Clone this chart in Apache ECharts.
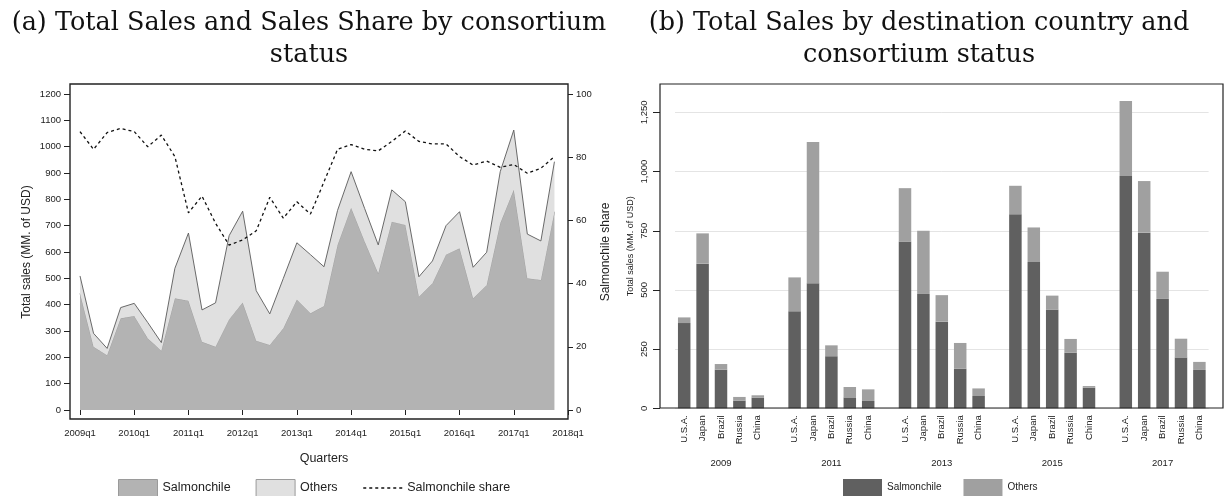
<!DOCTYPE html>
<html>
<head>
<meta charset="utf-8">
<title>Salmonchile sales</title>
<script src="https://cdn.jsdelivr.net/npm/echarts@6/dist/echarts.min.js"></script>
<style>
  html, body { margin: 0; padding: 0; background: #fff; }
  #chart { width: 1227px; height: 496px; }
</style>
</head>
<body>
<div id="chart"></div>
<script>
// (a) quarterly sales, 2009q1 .. 2017q4 (MM. of USD)
var years = [2009, 2010, 2011, 2012, 2013, 2014, 2015, 2016, 2017];
var salmonQ = [443, 240, 208, 348, 357, 272, 225, 424, 415, 259, 240, 344,
               408, 263, 247, 310, 420, 367, 395, 627, 768, 640, 519, 715,
               703, 430, 481, 590, 614, 424, 475, 709, 836, 500, 494, 753];
var othersQ = [66, 51, 26, 41, 48, 60, 31, 114, 257, 121, 167, 318,
               347, 190, 118, 190, 215, 223, 149, 131, 137, 125, 108, 121,
               88, 76, 85, 110, 139, 118, 124, 196, 227, 168, 148, 190];
var shareQ = [88.1, 82.5, 87.8, 89.1, 88.1, 83.3, 87.0, 80.2, 62.4, 67.7, 59.1, 52.2,
              53.8, 56.7, 67.3, 60.7, 65.9, 62.0, 72.2, 82.5, 84.0, 82.5, 82.0, 85.0,
              88.3, 85.0, 84.2, 84.2, 80.2, 77.5, 78.8, 76.8, 77.7, 74.9, 76.5, 80.2];

// (b) sales by destination country
var countries = ['U.S.A.', 'Japan', 'Brazil', 'Russia', 'China'];
var barYears = ['2009', '2011', '2013', '2015', '2017'];
var salmonB = [
  [360, 611, 163, 32, 45],
  [410, 528, 220, 46, 31],
  [705, 483, 366, 167, 52],
  [820, 618, 416, 235, 87],
  [981, 742, 462, 215, 162]
];
var othersB = [
  [24, 128, 24, 16, 10],
  [143, 597, 46, 44, 49],
  [225, 267, 112, 109, 32],
  [120, 146, 60, 58, 7],
  [317, 218, 115, 79, 34]
];
var salesTicks = [0, 250, 500, 750, 1000, 1250];

var quarters = [];
years.forEach(function (y) {
  for (var q = 1; q <= 4; q++) quarters.push(y + 'q' + q);
});
quarters.push('2018q1');

// one slot per bar, a blank slot between year groups
var slots = [], yearSlots = [], salmonSlots = [], othersSlots = [];
barYears.forEach(function (yr, g) {
  countries.forEach(function (c, k) {
    slots.push(c);
    yearSlots.push(k === 2 ? yr : '');
    salmonSlots.push(salmonB[g][k]);
    othersSlots.push(othersB[g][k]);
  });
  if (g < barYears.length - 1) {
    slots.push('');
    yearSlots.push('');
    salmonSlots.push('-');
    othersSlots.push('-');
  }
});

var sans = '"Liberation Sans", Arial, sans-serif';
var serif = '"DejaVu Serif", serif';
var ink = '#222';

var chart = echarts.init(document.getElementById('chart'));

var option = {
  animation: false,
  backgroundColor: '#fff',
  textStyle: { fontFamily: sans, color: ink },
  title: [
    {
      text: '(a) Total Sales and Sales Share by consortium\nstatus',
      left: 304, top: 2, textAlign: 'center',
      textStyle: { fontFamily: serif, fontSize: 25.5, fontWeight: 'normal', color: '#111', lineHeight: 32 }
    },
    {
      text: '(b) Total Sales by destination country and\nconsortium status',
      left: 914, top: 2, textAlign: 'center',
      textStyle: { fontFamily: serif, fontSize: 25.5, fontWeight: 'normal', color: '#111', lineHeight: 32 }
    }
  ],
  graphic: [
    { type: 'rect', z: 50, shape: { x: 70, y: 84, width: 498, height: 335 },
      style: { fill: 'none', stroke: ink, lineWidth: 1.4 } },
    { type: 'rect', z: 50, shape: { x: 660, y: 84, width: 563, height: 324 },
      style: { fill: 'none', stroke: ink, lineWidth: 1.2 } }
  ],
  grid: [
    { left: 80, top: 94, width: 488, height: 316, outerBoundsMode: 'none' },
    { left: 675, top: 84, width: 533.6, height: 324.3, outerBoundsMode: 'none' }
  ],
  legend: [
    {
      left: 113, top: 474, itemWidth: 39, itemHeight: 17, itemGap: 25, selectedMode: false,
      textStyle: { fontFamily: sans, fontSize: 12.5, color: ink },
      data: [
        { name: 'Salmonchile', icon: 'rect', itemStyle: { color: '#b3b3b3', borderColor: '#9a9a9a', borderWidth: 1 } },
        { name: 'Others', icon: 'rect', itemStyle: { color: '#e0e0e0', borderColor: '#9a9a9a', borderWidth: 1 } },
        { name: 'Salmonchile share', itemStyle: { opacity: 0 }, lineStyle: { color: '#111', type: [3, 3], width: 1.3 } }
      ]
    },
    {
      left: 838, top: 474, itemWidth: 39, itemHeight: 17, itemGap: 22, selectedMode: false,
      textStyle: { fontFamily: sans, fontSize: 10, color: ink },
      data: [
        { name: 'Salmonchile', icon: 'rect', itemStyle: { color: '#606060', borderWidth: 0 } },
        { name: 'Others', icon: 'rect', itemStyle: { color: '#a0a0a0', borderWidth: 0 } }
      ]
    }
  ],
  xAxis: [
    {
      gridIndex: 0, type: 'category', data: quarters, boundaryGap: false, offset: 9,
      axisLine: { show: false },
      axisTick: { show: true, interval: 3, length: 5, lineStyle: { color: ink } },
      axisLabel: { interval: 3, fontSize: 9.5, color: ink, margin: 9 },
      name: 'Quarters', nameLocation: 'middle', nameGap: 33,
      nameTextStyle: { fontSize: 12.5, color: ink }
    },
    {
      gridIndex: 1, type: 'category', data: slots,
      axisLine: { show: false }, axisTick: { show: false },
      axisLabel: { interval: 0, rotate: 90, fontSize: 9.5, color: ink, margin: 7 }
    },
    {
      gridIndex: 1, type: 'category', data: yearSlots, position: 'bottom', offset: 50,
      axisLine: { show: false }, axisTick: { show: false },
      axisLabel: { interval: 0, fontSize: 9.5, color: ink, margin: 0 }
    }
  ],
  yAxis: [
    {
      gridIndex: 0, type: 'value', min: 0, max: 1200, interval: 100, offset: 10,
      axisLine: { show: false },
      axisTick: { show: true, length: 6, lineStyle: { color: ink } },
      axisLabel: { fontSize: 9.5, color: ink, margin: 9, formatter: function (v) { return String(v); } },
      splitLine: { show: false },
      name: 'Total sales (MM. of USD)', nameLocation: 'middle', nameGap: 37,
      nameTextStyle: { fontSize: 12, color: ink }
    },
    {
      gridIndex: 0, type: 'value', min: 0, max: 100, interval: 20, position: 'right',
      axisLine: { show: false },
      axisTick: { show: true, length: 5, lineStyle: { color: ink } },
      axisLabel: { fontSize: 9.5, color: ink, margin: 8, formatter: function (v) { return String(v); } },
      splitLine: { show: false },
      name: 'Salmonchile share', nameLocation: 'middle', nameGap: 32, nameRotate: 90,
      nameTextStyle: { fontSize: 12, color: ink }
    },
    {
      gridIndex: 1, type: 'value', min: 0, max: 1370, interval: 250, offset: 15,
      axisLine: { show: false },
      axisTick: { show: true, length: 7, customValues: salesTicks, lineStyle: { color: ink } },
      axisLabel: {
        customValues: salesTicks, rotate: 90, fontSize: 9.5, color: ink, margin: 11,
        formatter: function (v) { return v.toLocaleString('en-US'); }
      },
      splitLine: { show: true, lineStyle: { color: '#e4e4e4', width: 1 } },
      name: 'Total sales (MM. of USD)', nameLocation: 'middle', nameGap: 25,
      nameTextStyle: { fontSize: 9, color: ink }
    }
  ],
  series: [
    {
      name: 'Salmonchile', type: 'line', xAxisIndex: 0, yAxisIndex: 0, stack: 'sales',
      data: salmonQ, symbol: 'none', z: 2,
      lineStyle: { color: '#a2a2a2', width: 1 },
      areaStyle: { color: '#b3b3b3', opacity: 1 }
    },
    {
      name: 'Others', type: 'line', xAxisIndex: 0, yAxisIndex: 0, stack: 'sales',
      data: othersQ, symbol: 'none', z: 3,
      lineStyle: { color: '#5a5a5a', width: 0.9 },
      areaStyle: { color: '#e0e0e0', opacity: 1 }
    },
    {
      name: 'Salmonchile share', type: 'line', xAxisIndex: 0, yAxisIndex: 1,
      data: shareQ, symbol: 'none', z: 5,
      lineStyle: { color: '#111', width: 1.3, type: [3, 3] }
    },
    {
      name: 'Salmonchile', type: 'bar', xAxisIndex: 1, yAxisIndex: 2, stack: 'dest',
      data: salmonSlots, barWidth: 12.5,
      itemStyle: { color: '#606060' }
    },
    {
      name: 'Others', type: 'bar', xAxisIndex: 1, yAxisIndex: 2, stack: 'dest',
      data: othersSlots, barWidth: 12.5,
      itemStyle: { color: '#a0a0a0' }
    }
  ]
};

chart.setOption(option);
</script>
</body>
</html>
